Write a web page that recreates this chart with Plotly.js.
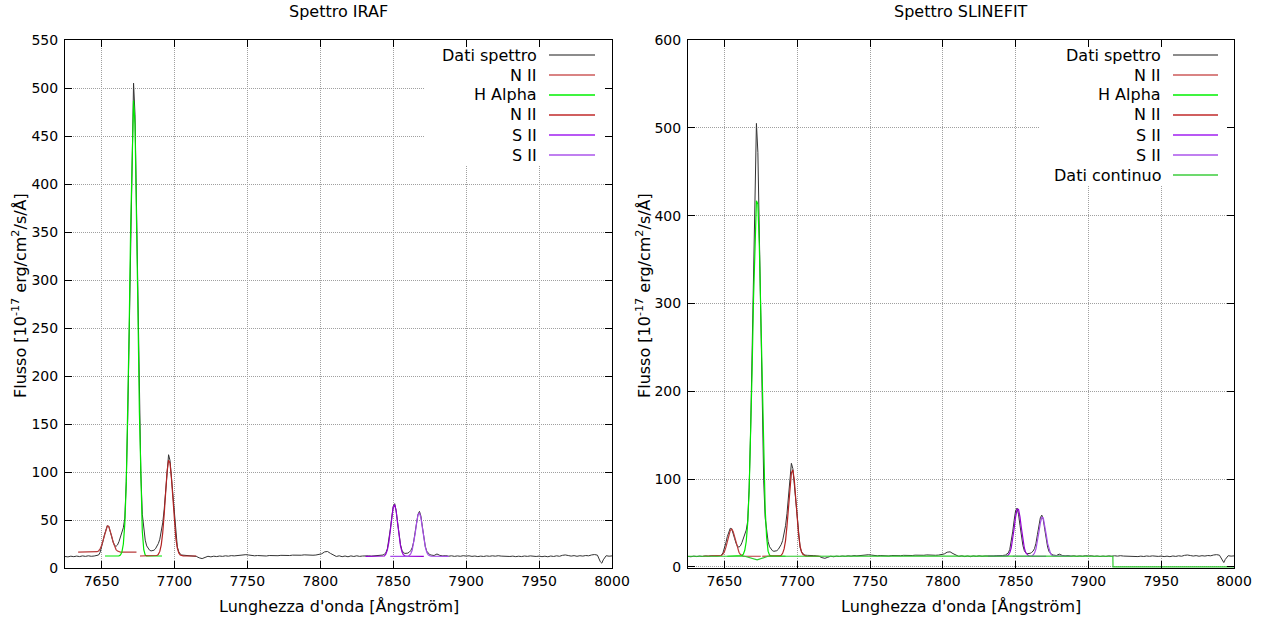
<!DOCTYPE html>
<html><head><meta charset="utf-8">
<script src="https://cdn.plot.ly/plotly-3.0.1.min.js"></script>
<style>html,body{margin:0;padding:0;background:#fff}#chart{width:1282px;height:623px}</style>
</head><body><div id="chart"></div>
<script>
// ---- Observed spectrum (shared by both panels) ----
const specWl = [7625,7627,7629,7631,7633,7635,7637,7639,7641,7643,7645,7647,7648,7649,7650,7651,7652,7653,7654,7655,7656,7657,7658,7659,7660,7661,7662,7663,7664,7665,7666,7667,7668,7669,7670,7671,7672,7673,7674,7675,7676,7677,7678,7679,7680,7681,7682,7683,7684,7685,7686,7687,7688,7689,7690,7691,7692,7693,7694,7695,7696,7697,7698,7699,7700,7701,7702,7703,7704,7705,7707,7709,7711,7713,7715,7717,7719,7721,7723,7725,7727,7729,7731,7733,7735,7737,7739,7741,7743,7745,7747,7749,7751,7753,7755,7757,7759,7761,7763,7765,7767,7769,7771,7773,7775,7777,7779,7781,7783,7785,7787,7789,7791,7793,7795,7797,7799,7801,7803,7805,7807,7809,7811,7813,7815,7817,7819,7821,7823,7825,7827,7829,7831,7833,7835,7837,7839,7841,7843,7844,7845,7846,7847,7848,7849,7850,7851,7852,7853,7854,7855,7856,7857,7858,7859,7860,7861,7862,7863,7864,7865,7866,7867,7868,7869,7870,7871,7872,7873,7874,7875,7876,7878,7880,7882,7884,7886,7888,7890,7892,7894,7896,7898,7900,7902,7904,7906,7908,7910,7912,7914,7916,7918,7920,7922,7924,7926,7928,7930,7932,7934,7936,7938,7940,7942,7944,7946,7948,7950,7952,7954,7956,7958,7960,7962,7964,7966,7968,7970,7972,7974,7976,7978,7980,7982,7984,7986,7988,7990,7992,7993,7994,7996,7998,8000];
const specFlux = [12.0,11.6,12.3,11.8,12.4,11.9,12.6,12.1,12.7,12.2,12.5,12.8,13.5,16,21,27.5,34.5,40.5,44,43.5,39,32.5,27,23.5,22.5,24,27.5,32,37,42,52,90,155,250,360,452,505,472,388,282,176,98,56,38,29,23,20,18.5,17.8,17.8,18.5,20,22.5,25.5,30,37,47,61,83,105,118,112,94,71,49,32,22,17,14.5,13.5,13.2,13.4,12.9,12.6,12.1,10.6,9.8,11.0,12.2,11.6,12.3,11.9,12.5,12.1,12.7,12.3,12.9,12.6,13.1,13.3,13.7,13.9,13.5,12.9,12.7,13.0,12.6,12.9,12.5,13.0,12.7,13.1,12.8,13.2,12.9,13.3,13.0,13.4,13.1,13.5,13.3,13.7,13.4,13.6,13.3,13.5,13.8,14.8,16.8,17.2,15.2,13.2,12.0,12.7,11.8,12.5,11.7,12.6,12.0,12.7,12.1,12.5,12.2,12.6,12.4,12.8,12.6,13.0,13.5,14.5,16,20,28,40,53,64,67,60,47.5,34.5,24.5,18.5,16,15.2,15,15.5,16.5,18,21,27,37,48,56,59,54,43,31.5,22.5,17.5,15,14,13.5,13.0,14.6,13.1,12.6,12.9,12.3,12.7,12.1,12.6,12.2,12.8,12.4,12.7,12.1,12.5,11.9,12.4,12.0,12.6,12.2,12.7,12.3,12.8,12.4,12.2,12.6,12.0,12.4,11.8,12.3,11.9,12.5,12.1,12.6,12.2,12.0,12.4,11.8,12.3,11.7,12.5,12.0,12.7,12.2,13.2,13.6,13.0,12.4,12.9,12.2,12.8,12.4,13.0,12.7,13.6,14.0,13.4,6.5,5.0,8.5,12.8,12.3,12.6];

// ---- IRAF fits (left panel) ----
const irafNII1Wl = [7634,7640,7646,7647,7648,7649,7650,7651,7652,7653,7654,7655,7656,7657,7658,7659,7660,7661,7662,7663,7668,7674];
const irafNII1Flux = [16.5,16.5,16.6,17.0,17.8,19.7,23.1,28.2,34.5,40.3,43.7,43.3,39.2,33.2,27.0,22.2,19.2,17.6,16.9,16.6,16.5,16.5];
const irafHaWl = [7652.4,7660,7662,7663,7664,7665,7666,7667,7668,7669,7670,7671,7672,7673,7674,7675,7676,7677,7678,7679,7680,7681,7682,7691.5];
const irafHaFlux = [12.5,12.5,12.7,13.5,16.5,25,46,88,156,250,355,442,487,462,378,268,162,82,38,19,13.5,12.6,12.5,12.5];
const irafNII2Wl = [7676.4,7686,7688,7689,7690,7691,7692,7693,7694,7695,7696,7697,7698,7699,7700,7701,7702,7703,7704,7705,7706,7715];
const irafNII2Flux = [12.5,12.5,13.0,14.2,17.3,24.1,36.7,56,79.4,100.7,112.3,109.3,93,69.9,47.6,30.9,20.7,15.7,13.5,12.8,12.6,12.5];
const irafSII1Wl = [7831,7843,7844,7845,7846,7847,7848,7849,7850,7851,7852,7853,7854,7855,7856,7857,7858,7859,7871];
const irafSII1Flux = [12.2,12.2,12.5,14.7,18.8,26.6,38.6,52.4,63.2,66.0,59.6,46.9,33.4,23.0,16.8,13.8,12.7,12.3,12.2];
const irafSII2Wl = [7848,7860,7861,7862,7863,7864,7865,7866,7867,7868,7869,7870,7871,7872,7873,7874,7875,7876,7888];
const irafSII2Flux = [12.2,12.2,13.0,14.6,18.3,25.2,35.2,46.5,55.2,57.6,52.3,42.1,30.9,22.0,16.5,13.8,12.7,12.3,12.2];

// ---- SLINEFIT fits (right panel) ----
const slNII1Wl = [7635,7647,7648,7649,7650,7651,7652,7653,7654,7655,7656,7657,7658,7659,7660,7661,7662,7663,7675];
const slNII1Flux = [12.2,12.5,13.1,14.6,17.4,22.2,28.8,35.9,41.4,43.2,40.5,34.6,27.4,21.1,16.7,14.2,12.9,12.3,12.2];
const slHaWl = [7652,7661,7662,7663,7664,7665,7666,7667,7668,7669,7670,7671,7672,7673,7674,7675,7676,7677,7678,7679,7680,7681,7682,7692];
const slHaFlux = [12.2,12.2,13.0,14.6,19,29,50,87,145,221,305,377,417,413,365,288,200,120,66,34,18,13.5,12.5,12.2];
const slNII2Wl = [7676,7687,7688,7689,7690,7691,7692,7693,7694,7695,7696,7697,7698,7699,7700,7701,7702,7703,7704,7705,7706,7716];
const slNII2Flux = [12.2,12.2,12.5,13.3,15.5,20.5,30,47,69,92,107,110.5,99,78,55,36,23.5,17,14,12.8,12.4,12.2];
const slSII1Wl = [7831,7843,7844,7845,7846,7847,7848,7849,7850,7851,7852,7853,7854,7855,7856,7857,7858,7859,7860,7871];
const slSII1Flux = [12.2,12.3,12.6,13.6,16.1,21.6,31,43.9,57,65.5,65.5,57,43.9,31,21.6,16.1,13.6,12.6,12.3,12.2];
const slSII2Wl = [7848,7861,7862,7863,7864,7865,7866,7867,7868,7869,7870,7871,7872,7873,7874,7875,7876,7888];
const slSII2Flux = [12.2,12.2,13.5,15.8,20.6,28.7,39.5,50.1,56.6,55.8,48.2,37.2,26.8,19.4,15.1,13.2,12.5,12.2];
const contWl = [7625,7664,7672.5,7680,7800,7916.8,7916.9,8000];
const contFlux = [12.2,12.2,8,12.2,12.3,12.2,0,0];

// ---- labels ----
const leftTitle = 'Spettro IRAF';
const rightTitle = 'Spettro SLINEFIT';
const xTitle = "Lunghezza d'onda [Ångström]";
const yTitle = 'Flusso [10<sup>-17</sup> erg/cm<sup>2</sup>/s/Å]';
const names = ['Dati spettro','N II','H Alpha','N II','S II','S II','Dati continuo'];
const colors = ['#333333','#b83a3a','#00e600','#b22222','#9400d3','#a64ce8','#2ecc2e'];
const legendColors = ['#8c8c8c','#cc5a5a','#00f000','#c02a2a','#a020f0','#c07ff0','#3ccc3c'];

const W = 1282, H = 623;
const px = v => v / W, py = v => 1 - v / H;
const FONT = 'DejaVu Sans';
const xRange = [7625, 8000], yRangeL = [0, 550], yRangeR = [-1.2, 600];

function tr(x, y, i, xa, ya, w) {
  return {x: x, y: y, type: 'scatter', mode: 'lines', xaxis: xa, yaxis: ya,
    name: names[i], line: {color: colors[i], width: w || 1.2}, hoverinfo: 'skip'};
}
const data = [
  tr(specWl, specFlux, 0, 'x', 'y', 1),
  tr(irafNII1Wl, irafNII1Flux, 1, 'x', 'y'),
  tr(irafHaWl, irafHaFlux, 2, 'x', 'y'),
  tr(irafNII2Wl, irafNII2Flux, 3, 'x', 'y'),
  tr(irafSII1Wl, irafSII1Flux, 4, 'x', 'y'),
  tr(irafSII2Wl, irafSII2Flux, 5, 'x', 'y'),
  tr(specWl, specFlux, 0, 'x2', 'y2', 1),
  tr(slNII1Wl, slNII1Flux, 1, 'x2', 'y2'),
  tr(slHaWl, slHaFlux, 2, 'x2', 'y2'),
  tr(slNII2Wl, slNII2Flux, 3, 'x2', 'y2'),
  tr(slSII1Wl, slSII1Flux, 4, 'x2', 'y2'),
  tr(slSII2Wl, slSII2Flux, 5, 'x2', 'y2'),
  tr(contWl, contFlux, 6, 'x2', 'y2')
];

function axis(extra) {
  return Object.assign({
    showline: true, linecolor: '#000', linewidth: 1, mirror: 'allticks',
    ticks: 'inside', ticklen: 7, tickcolor: '#000', tickwidth: 1,
    showgrid: true, gridcolor: '#a0a0a0', gridwidth: 1, griddash: '1px,1px',
    zeroline: false, tickfont: {family: FONT, size: 14, color: '#000'},
    fixedrange: true, automargin: false
  }, extra);
}

const layout = {
  width: W, height: H, margin: {l: 0, r: 0, t: 0, b: 0},
  paper_bgcolor: '#fff', plot_bgcolor: '#fff', showlegend: false,
  font: {family: FONT, size: 16, color: '#000'},
  xaxis: axis({domain: [px(65), px(612)], range: xRange, tick0: 7650, dtick: 50, anchor: 'y'}),
  yaxis: axis({domain: [py(568), py(40)], range: yRangeL, tick0: 0, dtick: 50, anchor: 'x', ticklabelstandoff: 3}),
  xaxis2: axis({domain: [px(688), px(1234)], range: xRange, tick0: 7650, dtick: 50, anchor: 'y2'}),
  yaxis2: axis({domain: [py(568), py(40)], range: yRangeR, tick0: 0, dtick: 100, anchor: 'x2', ticklabelstandoff: 3}),
  shapes: [], annotations: []
};

// titles
const ann = layout.annotations;
const txt = (text, x, y, opts) => ann.push(Object.assign({text: text, x: x, y: y, xref: 'paper', yref: 'paper',
  showarrow: false, xanchor: 'center', yanchor: 'middle', font: {family: FONT, size: 16, color: '#000'}}, opts || {}));
txt(leftTitle, px(338.5), py(12));
txt(rightTitle, px(961), py(12));
txt(xTitle, px(338.5), py(606));
txt(xTitle, px(961), py(606));
txt(yTitle, px(19), py(296), {textangle: -90});
txt(yTitle, px(643), py(296), {textangle: -90});

// legend boxes (white background hiding the grid) and entries
function legend(xa, ya, xr, yr, fx, fy, textRight, lineX0, lineX1, n) {
  layout.shapes.push({type: 'rect', xref: xa, yref: ya, layer: 'between',
    x0: xr[0] + fx * (xr[1] - xr[0]), x1: xr[1], y0: yr[0] + fy * (yr[1] - yr[0]), y1: yr[1],
    fillcolor: '#fff', line: {width: 0}});
  for (let i = 0; i < n; i++) {
    const yy = py(55 + 20 * i);
    txt(names[i], px(textRight), yy, {xanchor: 'right'});
    layout.shapes.push({type: 'line', xref: 'paper', yref: 'paper', x0: px(lineX0), x1: px(lineX1), y0: yy, y1: yy,
      line: {color: legendColors[i], width: (i === 0 || i === 5) ? 2 : 1.3}, layer: 'above'});
  }
}
legend('x', 'y', xRange, yRangeL, (425 - 65) / 547, (568 - 165) / 528, 539, 549, 595, 6);
legend('x2', 'y2', xRange, yRangeR, (1040 - 688) / 546, (568 - 185) / 528, 1163, 1173, 1218, 7);

Plotly.newPlot('chart', data, layout, {staticPlot: true, displayModeBar: false});
</script>
</body></html>
